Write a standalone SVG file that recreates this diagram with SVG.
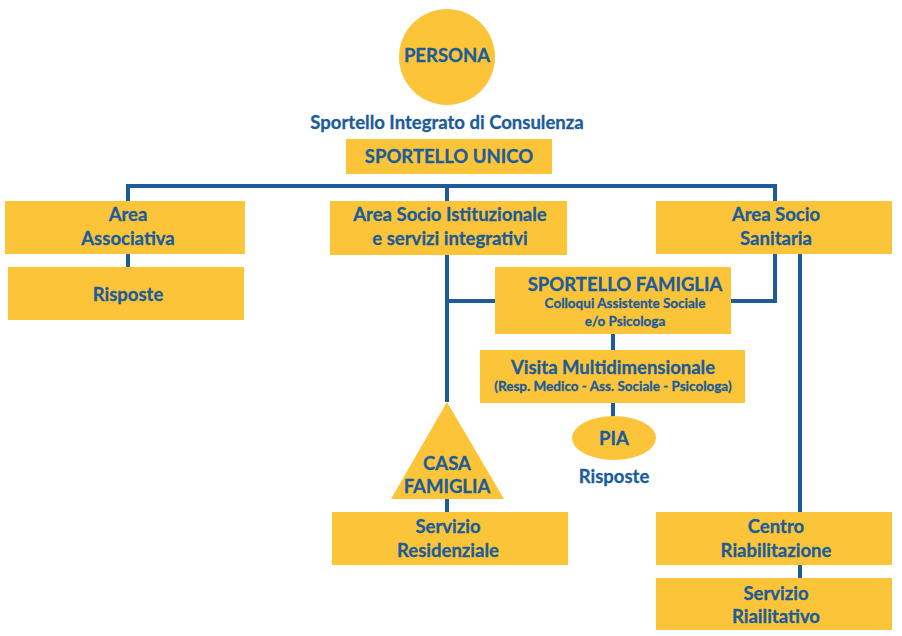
<svg xmlns="http://www.w3.org/2000/svg" width="902" height="636" viewBox="0 0 902 636">
<style>
.b{fill:#FCC438}
.t{font-family:Lato,"Open Sans",sans-serif;font-weight:bold;fill:#1D5C99;text-anchor:middle;font-size:18.5px;stroke:#1D5C99;stroke-width:0.3}
.s{font-size:13.5px}
.c{fill:none;stroke:#1D5C99;stroke-width:4}
</style>
<rect width="902" height="636" fill="#fff"/>
<g id="connectors">
<path class="c" d="M128,201V186H775V201M447,186V201M128,254V267M447,255V402M447,301H495M731,301H775V254M800,254V512M613,334V350M613,403V417M447,499V512M800,565V578"/>
</g>
<g id="persona"><circle class="b" cx="447" cy="57" r="48"/><text class="t" x="447" y="62" font-size="20">PERSONA</text></g>
<g id="sic"><text class="t" x="447" y="129">Sportello Integrato di Consulenza</text></g>
<g id="unico"><rect class="b" x="346" y="139" width="206" height="35"/><text class="t" x="449" y="163">SPORTELLO UNICO</text></g>
<g id="assoc"><rect class="b" x="5" y="201" width="240" height="53"/><text class="t" x="128" y="221">Area</text><text class="t" x="128" y="245">Associativa</text></g>
<g id="risposte1"><rect class="b" x="8" y="267" width="236" height="53"/><text class="t" x="128" y="301">Risposte</text></g>
<g id="istituz"><rect class="b" x="330" y="201" width="237" height="54"/><text class="t" x="450" y="221">Area Socio Istituzionale</text><text class="t" x="450" y="245">e servizi integrativi</text></g>
<g id="sanit"><rect class="b" x="656" y="201" width="236" height="53"/><text class="t" x="776" y="221">Area Socio</text><text class="t" x="776" y="245">Sanitaria</text></g>
<g id="famiglia"><rect class="b" x="495" y="267" width="236" height="67"/><text class="t" x="625" y="291">SPORTELLO FAMIGLIA</text><text class="t s" x="625" y="308">Colloqui Assistente Sociale</text><text class="t s" x="625" y="326">e/o Psicologa</text></g>
<g id="visita"><rect class="b" x="480" y="350" width="265" height="53"/><text class="t" x="613" y="374">Visita Multidimensionale</text><text class="t s" x="613" y="391">(Resp. Medico - Ass. Sociale - Psicologa)</text></g>
<g id="pia"><ellipse class="b" cx="614" cy="438" rx="42" ry="22"/><text class="t" x="614" y="445" font-size="19">PIA</text><text class="t" x="614" y="483">Risposte</text></g>
<g id="casa"><polygon class="b" points="447,402 391,499 504,499"/><text class="t" x="447" y="470">CASA</text><text class="t" x="447" y="493">FAMIGLIA</text></g>
<g id="resid"><rect class="b" x="332" y="512" width="236" height="53"/><text class="t" x="448" y="533">Servizio</text><text class="t" x="448" y="557">Residenziale</text></g>
<g id="centro"><rect class="b" x="656" y="512" width="236" height="53"/><text class="t" x="776" y="533">Centro</text><text class="t" x="776" y="557">Riabilitazione</text></g>
<g id="riail"><rect class="b" x="656" y="578" width="236" height="52"/><text class="t" x="776" y="600">Servizio</text><text class="t" x="776" y="623">Riailitativo</text></g>
</svg>
